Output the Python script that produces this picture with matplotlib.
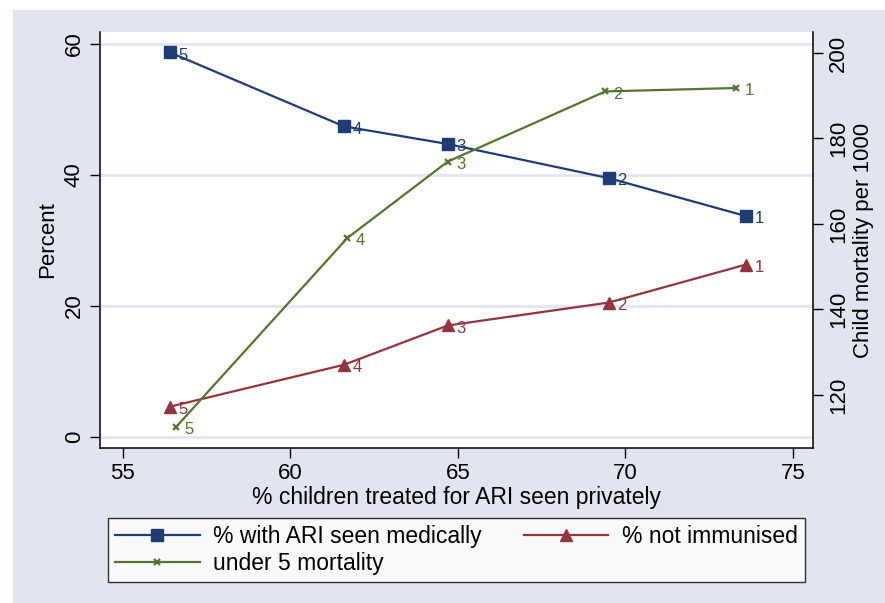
import matplotlib
matplotlib.use('Agg')
import matplotlib.pyplot as plt
from matplotlib.patches import Rectangle

plt.rcParams['font.family'] = ['Liberation Sans', 'DejaVu Sans']

# quintile labels (1 = richest ... 5)
quintiles = ['5', '4', '3', '2', '1']
pct_private = [56.4, 61.6, 64.7, 69.5, 73.6]
pct_private_mort = [56.6, 61.7, 64.7, 69.4, 73.3]
seen_medically = [58.7, 47.4, 44.7, 39.5, 33.7]
not_immunised = [4.6, 11.0, 17.0, 20.5, 26.3]
under5_mortality = [112.6, 156.7, 174.6, 191.0, 191.8]

navy = '#1F3D75'
maroon = '#92353C'
green = '#55752F'
bg = '#E1E5F0'

fig = plt.figure(figsize=(8.85, 6.03), dpi=100)
fig.patch.set_facecolor('white')
fig.patches.append(Rectangle((13 / 885, 0), 1 - 13 / 885, 593 / 603,
                             transform=fig.transFigure, facecolor=bg,
                             edgecolor='none', zorder=-10))

ax = fig.add_axes([100 / 885, 155 / 603, 713 / 885, 416 / 603])
ax2 = ax.twinx()
ax.set_facecolor('white')

l1, = ax.plot(pct_private, seen_medically, color=navy, lw=1.6,
              marker='s', ms=8, label='% with ARI seen medically')
l2, = ax.plot(pct_private, not_immunised, color=maroon, lw=1.6,
              marker='^', ms=9, label='% not immunised')
l3, = ax2.plot(pct_private_mort, under5_mortality, color=green, lw=1.6,
               marker='x', ms=5, mew=1.6, label='under 5 mortality')

for xs, ys, a, c in [(pct_private, seen_medically, ax, navy),
                     (pct_private, not_immunised, ax, maroon),
                     (pct_private_mort, under5_mortality, ax2, green)]:
    for x, y, q in zip(xs, ys, quintiles):
        a.annotate(q, (x, y), xytext=(6, -2), textcoords='offset points',
                   ha='left', va='center', color=c, fontsize=12)

ax.set_xlim(54.32, 75.6)
ax.set_ylim(-1.7, 61.8)
ax2.set_ylim(107.6, 204.9)
ax.set_xticks([55, 60, 65, 70, 75])
ax.set_yticks([0, 20, 40, 60])
ax2.set_yticks([120, 140, 160, 180, 200])

ax.grid(axis='y', color='#E1E6F0', lw=2)
ax.set_axisbelow(True)

ax.spines['top'].set_visible(False)
ax2.spines['top'].set_visible(False)
ax2.spines['left'].set_visible(False)
ax2.spines['bottom'].set_visible(False)
ax.spines['right'].set_visible(False)
for sp in [ax.spines['left'], ax.spines['bottom'], ax2.spines['right']]:
    sp.set_color('black')
    sp.set_linewidth(1.1)

ax.tick_params(axis='both', direction='out', length=7, width=1, labelsize=16,
               pad=4)
ax.tick_params(axis='y', labelrotation=90)
ax2.tick_params(axis='y', direction='out', length=7, width=1, labelsize=16,
                labelrotation=90, pad=4)
for lab in ax.get_yticklabels() + ax2.get_yticklabels():
    lab.set_va('center')

ax.set_xlabel('% children treated for ARI seen privately', fontsize=16.5,
              labelpad=1)
ax.set_ylabel('Percent', fontsize=16, labelpad=4)
ax2.set_ylabel('Child mortality per 1000', fontsize=16, labelpad=3)

leg = fig.legend(handles=[l1, l3, l2], ncol=2, mode='expand',
                 bbox_to_anchor=(108 / 885, 21 / 603, 697 / 885, 66 / 603),
                 loc='lower left', fontsize=16.5, frameon=True, fancybox=False,
                 handlelength=3.7, handletextpad=0.6, borderpad=0.3,
                 labelspacing=0.2, borderaxespad=0)
leg.get_frame().set_edgecolor('black')
leg.get_frame().set_linewidth(1)

fig.savefig('out.png', dpi=100)
